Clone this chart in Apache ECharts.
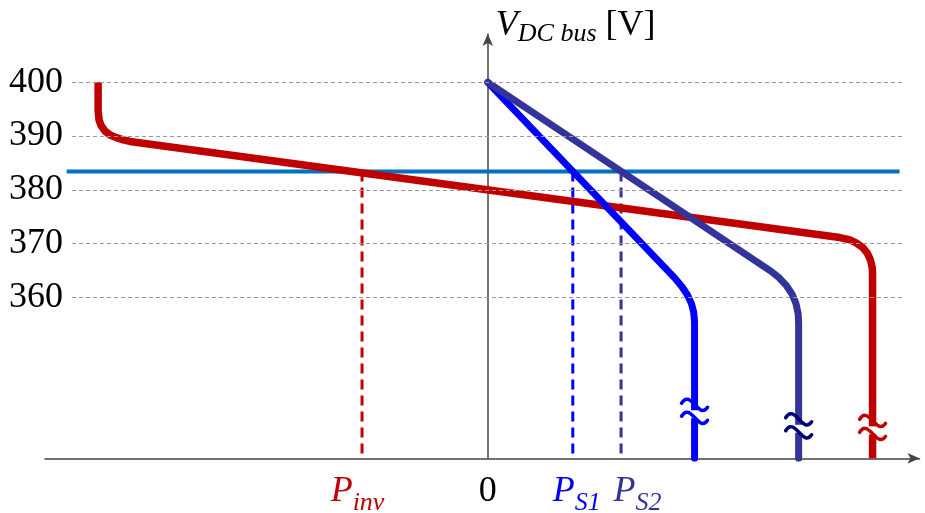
<!DOCTYPE html>
<html>
<head>
<meta charset="utf-8">
<script src="https://cdn.jsdelivr.net/npm/echarts@6/dist/echarts.min.js"></script>
<style>
html,body{margin:0;padding:0;background:#fff;}
#chart{width:925px;height:513px;}
</style>
</head>
<body>
<div id="chart"></div>
<script>
// ---- data ----
const Y_TICKS = [360, 370, 380, 390, 400];
const V_REF = 383.4;
const P_INV = -28.4;
const P_S1 = 19.2;
const P_S2 = 30.1;
const X_LABEL_VALUES = [P_INV, 0, P_S1];
const X_LABEL_VALUES_2 = [P_S2];
const INV_CURVE = [
  [-88.0, 400], [-88.0, 394.8], [-87.8, 393.0], [-87.3, 391.9], [-86.4, 390.9], [-85.3, 390.2],
  [-83.9, 389.7], [-82.3, 389.3], [-80.8, 389.0], [79.5, 371.1], [81.6, 370.7], [83.2, 370.1],
  [84.6, 369.3], [85.7, 368.2], [86.4, 367.0], [86.8, 365.6], [86.9, 364.3], [86.9, 330]
];
const S1_CURVE = [
  [0, 400], [42.3, 363.5], [43.9, 361.9], [45.1, 360.4], [46.0, 358.8], [46.5, 357.2], [46.7, 355.4], [46.7, 330]
];
const S2_CURVE = [
  [0, 400], [64.0, 364.8], [65.8, 363.6], [67.4, 362.2], [68.7, 360.6], [69.6, 358.8], [70.1, 356.9], [70.2, 355.2], [70.2, 330]
];
const BREAKS = [[46.7, 338.2], [70.2, 335.5], [86.9, 335.2]];

// ---- styles ----
const RED = '#C00000', BLUE = '#0000FF', DBLUE = '#333399', REF = '#0070C0';
const BREAK_COLORS = [BLUE, '#00007A', RED];
const SERIF = '"Liberation Serif", "DejaVu Serif", serif';
const GRID_X = [-93.9, 93.7];
const REF_X = [-95.1, 93.0];
const Y_MIN = 330, Y_MAX = 409;

const chart = echarts.init(document.getElementById('chart'));

function xLabel(v) {
  if (Math.abs(v - P_INV) < 1e-6) return '{pr|P}{sr|inv}';
  if (Math.abs(v - P_S1) < 1e-6) return '{pb|P}{sb|S1}';
  if (Math.abs(v - P_S2) < 1e-6) return '{pd|P}{sd|S2}';
  if (Math.abs(v) < 1e-6) return '{z|0}';
  return '';
}

const main = (c, extra) => Object.assign({fontFamily: SERIF, fontStyle: 'italic', fontSize: 36, color: c, lineHeight: 34, verticalAlign: 'top'}, extra || {});
const sub = (c, extra) => Object.assign({fontFamily: SERIF, fontStyle: 'italic', fontSize: 26, color: c, lineHeight: 43, verticalAlign: 'bottom'}, extra || {});
const axisArrow = {show: true, symbol: ['none', 'arrow'], symbolSize: [8, 12], lineStyle: {color: '#444', width: 1.5}};

const option = {
  animation: false,
  backgroundColor: '#fff',
  grid: {left: 45, right: 5.5, top: 34, bottom: 54.7, containLabel: false, outerBoundsMode: 'none'},
  xAxis: [
    {
      type: 'value', min: -100, max: 97.5, position: 'bottom',
      axisLine: Object.assign({onZero: false}, axisArrow),
      axisTick: {show: false},
      splitLine: {show: false},
      axisLabel: {
        customValues: X_LABEL_VALUES,
        formatter: xLabel,
        margin: 15,
        hideOverlap: false,
        rich: {
          z: {fontFamily: SERIF, fontSize: 36, color: '#000', lineHeight: 34, verticalAlign: 'top'},
          pr: main(RED), sr: sub(RED, {padding: [0, 9, 0, 0]}),
          pb: main(BLUE, {padding: [0, 0, 0, 8]}), sb: sub(BLUE)
        }
      }
    },
    {
      type: 'value', min: -100, max: 97.5, position: 'bottom',
      axisLine: {show: false, onZero: false},
      axisTick: {show: false},
      splitLine: {show: false},
      axisLabel: {
        customValues: X_LABEL_VALUES_2,
        formatter: xLabel,
        margin: 15,
        hideOverlap: false,
        rich: {
          pd: main(DBLUE, {padding: [0, 0, 0, 33]}), sd: sub(DBLUE)
        }
      }
    }
  ],
  yAxis: [
    {
      type: 'value', min: Y_MIN, max: Y_MAX, position: 'left', offset: -26,
      axisLine: {show: false, onZero: false},
      axisTick: {show: false},
      splitLine: {show: false},
      axisLabel: {customValues: Y_TICKS, margin: 8, fontFamily: SERIF, fontSize: 36, color: '#000'}
    },
    {
      type: 'value', min: Y_MIN, max: Y_MAX,
      axisLine: Object.assign({onZero: true}, axisArrow),
      axisTick: {show: false},
      axisLabel: {show: false},
      splitLine: {show: false},
      name: '{v|V}{s|DC bus}{b| [V]}',
      nameLocation: 'end',
      nameGap: 7,
      nameTextStyle: {
        align: 'left', verticalAlign: 'middle', padding: [0, 0, 0, 8],
        rich: {
          v: {fontFamily: SERIF, fontStyle: 'italic', fontSize: 36, color: '#000', lineHeight: 36, verticalAlign: 'top'},
          s: {fontFamily: SERIF, fontStyle: 'italic', fontSize: 26, color: '#000', lineHeight: 39.5, verticalAlign: 'bottom'},
          b: {fontFamily: SERIF, fontSize: 36, color: '#000', lineHeight: 36, verticalAlign: 'top'}
        }
      }
    }
  ],
  series: [
    {
      type: 'line', data: [], silent: true,
      markLine: {
        silent: true, symbol: ['none', 'none'], label: {show: false},
        lineStyle: {color: '#999', type: [4, 3], width: 1},
        data: Y_TICKS.map(v => [{coord: [GRID_X[0], v]}, {coord: [GRID_X[1], v]}])
      }
    },
    {type: 'line', data: [[REF_X[0], V_REF], [REF_X[1], V_REF]], showSymbol: false, silent: true,
      lineStyle: {color: REF, width: 4}},
    {type: 'line', data: [[P_INV, V_REF], [P_INV, Y_MIN]], showSymbol: false, silent: true,
      lineStyle: {color: RED, width: 3, type: [10, 6]}},
    {type: 'line', data: [[P_S1, V_REF], [P_S1, Y_MIN]], showSymbol: false, silent: true,
      lineStyle: {color: BLUE, width: 3, type: [10, 6]}},
    {type: 'line', data: [[P_S2, V_REF], [P_S2, Y_MIN]], showSymbol: false, silent: true,
      lineStyle: {color: DBLUE, width: 3, type: [10, 6]}},
    {type: 'line', data: INV_CURVE, showSymbol: false, silent: true,
      lineStyle: {color: RED, width: 7.5, cap: 'butt', join: 'round'}},
    {type: 'line', data: S1_CURVE, showSymbol: false, silent: true,
      lineStyle: {color: BLUE, width: 7, cap: 'round', join: 'round'}},
    {type: 'line', data: S2_CURVE, showSymbol: false, silent: true,
      lineStyle: {color: DBLUE, width: 7, cap: 'round', join: 'round'}},
    {
      type: 'custom', data: BREAKS, silent: true, z: 10,
      renderItem: function (params, api) {
        const p = api.coord([api.value(0), api.value(1)]);
        const c = BREAK_COLORS[params.dataIndex];
        const tilde = dy => ({
          type: 'bezierCurve',
          shape: {x1: -13, y1: -6 + dy, cpx1: -4, cpy1: -21 + dy, cpx2: 4, cpy2: 11 + dy, x2: 13, y2: -2 + dy},
          style: {stroke: c, lineWidth: 3.5, fill: null, lineCap: 'round'}
        });
        return {
          type: 'group', x: p[0], y: p[1],
          children: [
            {type: 'rect', shape: {x: -6, y: -4, width: 12, height: 8}, style: {fill: '#fff'}},
            tilde(-5), tilde(8)
          ]
        };
      }
    }
  ]
};
chart.setOption(option);
</script>
</body>
</html>
